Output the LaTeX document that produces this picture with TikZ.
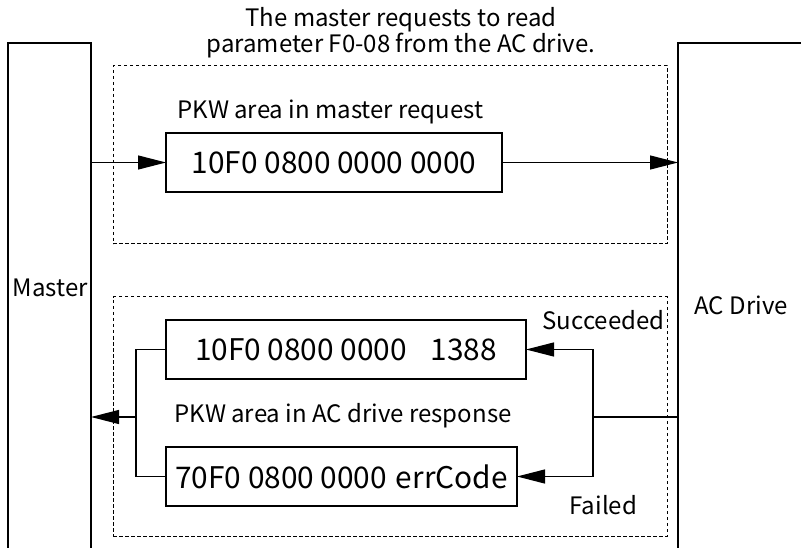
\documentclass[tikz,border=0pt]{standalone}
\usepackage{fontspec}
\setmainfont{Noto Sans CJK SC}
\usetikzlibrary{arrows.meta}
\begin{document}
\begin{tikzpicture}[x=1pt,y=-1pt,
  line width=1.2pt,
  box/.style={draw, rectangle, inner sep=0pt, outer sep=0pt, anchor=north west},
  dbox/.style={draw, rectangle, dash pattern=on 3.5pt off 2.5pt, line width=1pt, inner sep=0pt, outer sep=0pt, anchor=north west},
  arr/.style={-{Triangle[length=28pt,width=14pt]}},
  lbl/.style={font=\fontsize{24}{26}\selectfont, inner sep=0pt, anchor=base west},
  code/.style={box, font=\fontsize{29.8}{31}\selectfont}]
\useasboundingbox (0,0) rectangle (801,548);
\clip (0,0) rectangle (801,548);
% side blocks (open at bottom / right)
\node[box, minimum width=83pt, minimum height=530pt] (master) at (8,43) {};
\node[box, minimum width=150pt, minimum height=530pt] (drive) at (678,43) {};
\node[lbl] (mlabel) at (12,297) {Master};
\node[lbl] (dlabel) at (694,315) {AC Drive};
% title
\node[lbl, anchor=base] (t1) at (401,27) {The master requests to read};
\node[lbl, anchor=base] (t2) at (401,53) {parameter F0-08 from the AC drive.};
% dashed groups
\node[dbox, minimum width=554pt, minimum height=178pt] (g1) at (113,66) {};
\node[dbox, minimum width=554pt, minimum height=239pt] (g2) at (113,297) {};
% request
\node[lbl] (reqlabel) at (177,119) {PKW area in master request};
\node[code, minimum width=336pt, minimum height=59pt] (req) at (166,133) {10F0 0800 0000 0000};
% responses
\node[code, minimum width=360pt, minimum height=59pt] (succ) at (166,320) {10F0 0800 0000\hspace{0.8em}1388};
\node[code, minimum width=351pt, minimum height=59pt] (fail) at (166,447) {70F0 0800 0000\hspace{0.3em}errCode};
\node[lbl] (resplabel) at (174,422) {PKW area in AC drive response};
\node[lbl] (slabel) at (542,329) {Succeeded};
\node[lbl] (flabel) at (569,514) {Failed};
% connectors
\draw[arr] (req.west -| master.east) -- (req.west);
\draw[arr] (req.east) -- (req.east -| drive.west);
\coordinate (split) at (593,417);
\coordinate (join) at (136,417);
\draw (split -| drive.west) -- (split);
\draw[arr] (split) |- (succ.east);
\draw[arr] (split) |- (fail.east);
\draw (succ.west) -| (join);
\draw (fail.west) -| (join);
\draw[arr] (join) -- (join -| master.east);
\end{tikzpicture}
\end{document}
